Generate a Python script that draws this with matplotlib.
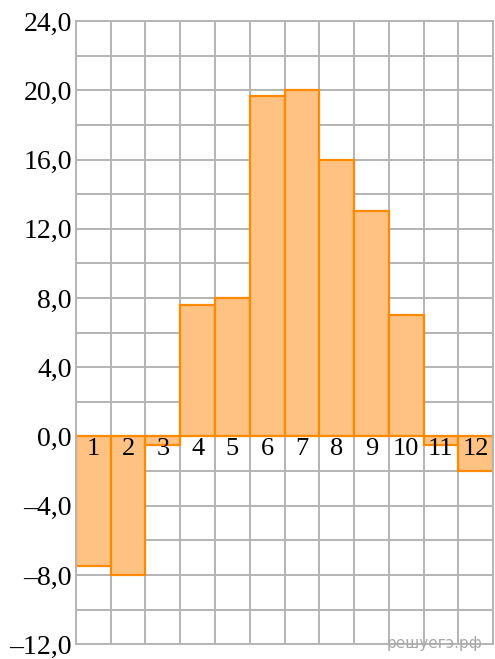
import numpy as np
from matplotlib import pyplot as plt

# Data
months = np.arange(1, 13)
temps = np.array([-7.5, -8.0, -0.5, 7.6, 8.0, 19.7, 20.0, 16.0, 13.0, 7.0, -0.5, -2.0])
yticks = np.arange(-12, 25, 4)

plt.rcParams['font.family'] = ['Liberation Serif', 'DejaVu Serif']

fig = plt.figure(figsize=(4.95, 6.59), dpi=100)
ax = fig.add_axes([0.1535, 0.0225, 0.996 - 0.1535, 0.968 - 0.0225])

grid_c = '#b4b4b4'
ax.set_xlim(0.5, 12.5)
ax.set_ylim(-12, 24)
ax.set_xticks(np.arange(0.5, 12.6, 1.0))
ax.set_yticks(np.arange(-12, 25, 2), minor=True)
ax.set_yticks(yticks)
ax.set_yticklabels([('%.1f' % v).replace('.', ',').replace('-', '–') for v in yticks])
ax.set_xticklabels([])
ax.grid(True, which='both', color=grid_c, linewidth=1.4, zorder=0)
ax.set_axisbelow(True)
ax.tick_params(length=0, which='both', labelsize=20, pad=3)
for s in ax.spines.values():
    s.set_color(grid_c)
    s.set_linewidth(1.4)

ax.bar(months, temps, width=1.0, color='#ffc283', edgecolor='#ff8a00',
       linewidth=1.6, zorder=2)

for m in months:
    ax.text(m, -0.1, str(m), ha='center', va='top', fontsize=19, zorder=3)

fig.text(0.975, 0.012, 'решуегэ.рф', ha='right', va='bottom', color='#a8a8a8',
         fontsize=11, family='DejaVu Sans')

fig.savefig('out.png', dpi=100)
